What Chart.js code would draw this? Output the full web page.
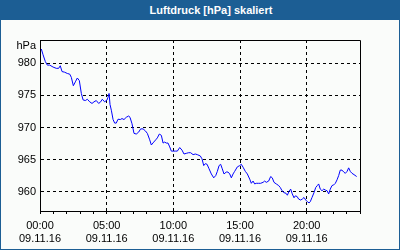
<!DOCTYPE html>
<html>
<head>
<meta charset="utf-8">
<script src="https://cdn.jsdelivr.net/npm/chart.js@4/dist/chart.umd.min.js"></script>
<style>
  html, body { margin: 0; padding: 0; background: #fafcfa; }
  #wrap { position: relative; width: 400px; height: 250px; overflow: hidden; background: #fafcfa; }
  #c { position: absolute; left: 0; top: 0; }
  #hdr { position: absolute; left: 0; top: 0; width: 400px; height: 20px; background: #1c5e94;
         color: #fff; font: bold 11px "Liberation Sans", Arial, sans-serif; line-height: 20px;
         text-align: center; box-sizing: border-box; padding-left: 22px; }
  #frame { position: absolute; left: 0; top: 0; width: 400px; height: 250px; box-sizing: border-box;
           border-left: 1px solid #1c5e94; border-right: 1px solid #1c5e94; border-bottom: 1px solid #1c5e94;
           pointer-events: none; }
</style>
</head>
<body>
<div id="wrap">
  <canvas id="c" width="400" height="250"></canvas>
  <div id="hdr">Luftdruck [hPa] skaliert</div>
  <div id="frame"></div>
</div>
<script>
const chartTitle = 'Luftdruck [hPa] skaliert';
const unitLabel = 'hPa';
const dateLabel = '09.11.16';
const xTickHours = [0, 5, 10, 15, 20];
const xTickTimes = ['00:00', '05:00', '10:00', '15:00', '20:00'];
const yTicks = [960, 965, 970, 975, 980];
const yMin = 957.05;
const yMax = 983.6;
const hours = [
  0.10,0.23,0.40,0.55,0.73,0.98,1.22,1.40,1.52,1.65,1.85,2.05,2.23,2.35,2.50,2.65,2.80,2.95,3.10,3.23,
  3.40,3.55,3.73,3.90,4.05,4.22,4.40,4.55,4.67,4.85,5.03,5.10,5.18,5.25,5.35,5.48,5.60,5.72,5.85,6.02,
  6.15,6.30,6.47,6.65,6.75,6.90,7.05,7.22,7.40,7.55,7.73,7.90,8.05,8.23,8.35,8.53,8.68,8.80,8.95,9.10,
  9.23,9.35,9.47,9.60,9.73,9.85,9.98,10.15,10.30,10.48,10.65,10.80,10.97,11.15,11.30,11.48,11.65,11.80,12.02,12.15,
  12.28,12.40,12.53,12.68,12.85,13.03,13.18,13.30,13.43,13.55,13.67,13.80,13.97,14.10,14.23,14.35,14.48,14.60,14.80,14.98,
  15.10,15.23,15.40,15.55,15.73,15.85,15.98,16.10,16.22,16.40,16.55,16.73,16.85,16.97,17.15,17.30,17.42,17.55,17.72,17.90,
  18.02,18.15,18.30,18.45,18.55,18.68,18.80,18.92,19.05,19.15,19.28,19.40,19.55,19.67,19.80,19.93,20.05,20.18,20.27,20.40,
  20.55,20.68,20.80,20.90,21.02,21.15,21.28,21.40,21.53,21.65,21.77,21.90,22.03,22.15,22.28,22.40,22.52,22.65,22.78,22.90,
  23.03,23.15,23.27,23.40,23.55,23.75
];
const pressure = [
  982.2,981.3,980.25,979.7,979.7,979.4,979.2,979.2,979.6,978.7,978.6,978.4,978.3,977.8,976.5,977.1,977.7,977.3,975.3,974.3,
  974.2,974.4,974.0,973.75,974.0,974.2,973.75,974.0,974.4,974.0,974.3,974.7,975.3,973.6,972.7,971.25,970.7,970.7,971.3,971.25,
  971.4,971.25,971.6,971.8,971.6,970.6,969.1,969.0,969.3,969.8,969.8,969.5,969.1,968.1,967.3,967.75,968.1,968.4,969.0,968.8,
  967.6,967.75,967.6,967.6,967.0,966.35,966.35,966.35,966.35,966.9,966.5,965.9,966.0,966.1,966.1,965.8,965.9,965.8,965.6,965.15,
  964.1,964.4,964.3,963.6,962.8,962.2,962.55,963.2,964.1,964.3,963.6,962.8,963.1,963.1,962.8,962.2,962.8,963.2,963.9,964.1,
  964.3,963.85,963.2,962.8,962.0,961.35,961.7,961.25,961.35,961.35,961.35,961.5,961.7,961.5,961.7,962.4,962.2,961.5,961.25,961.0,
  960.7,960.2,959.9,959.8,959.5,960.1,960.45,959.7,959.1,959.4,959.3,958.9,958.75,958.9,959.15,958.75,958.5,958.3,958.5,959.15,
  959.9,960.7,961.0,961.25,960.45,960.2,960.45,960.3,960.2,959.7,960.45,961.0,961.1,961.35,961.9,962.55,963.4,963.4,963.1,962.9,
  963.2,963.75,963.2,962.9,962.7,962.4
];

const points = hours.map((h, i) => ({ x: h, y: pressure[i] }));
const FONT = { family: '"Liberation Sans", Arial, sans-serif', size: 11 };

const framePlugin = {
  id: 'frame',
  afterDraw(chart) {
    const { ctx, chartArea: a } = chart;
    ctx.save();
    ctx.strokeStyle = '#000';
    ctx.lineWidth = 1;
    ctx.beginPath();
    ctx.moveTo(a.left, a.top + 0.5);
    ctx.lineTo(a.right + 0.5, a.top + 0.5);
    ctx.lineTo(a.right + 0.5, a.bottom);
    ctx.stroke();
    ctx.fillStyle = '#000';
    ctx.font = '11px "Liberation Sans", Arial, sans-serif';
    ctx.textAlign = 'right';
    ctx.textBaseline = 'middle';
    ctx.fillText(unitLabel, chart.scales.y.right - 4, a.top + 6);
    ctx.restore();
  }
};

new Chart(document.getElementById('c'), {
  type: 'line',
  data: {
    datasets: [{
      label: chartTitle,
      data: points,
      borderColor: '#0000ff',
      borderWidth: 1,
      pointRadius: 0,
      tension: 0,
      fill: false
    }]
  },
  options: {
    responsive: false,
    animation: false,
    layout: { padding: { top: 40, right: 40, left: 0, bottom: 0 } },
    plugins: { legend: { display: false }, title: { display: false }, tooltip: { enabled: false } },
    scales: {
      x: {
        type: 'linear',
        min: 0,
        max: 24,
        afterFit(s) { s.height = 39; },
        ticks: {
          stepSize: 1,
          autoSkip: false,
          maxRotation: 0,
          minRotation: 0,
          padding: 5,
          color: '#000',
          font: FONT,
          callback(v) {
            const k = xTickHours.indexOf(v);
            return k >= 0 ? [xTickTimes[k], dateLabel] : '';
          }
        },
        grid: {
          color: (c) => (c.tick && xTickHours.includes(c.tick.value) && c.tick.value > 0) ? '#000' : 'rgba(0,0,0,0)',
          tickColor: '#000',
          tickLength: 3,
          lineWidth: 1
        },
        border: { display: true, color: '#000', width: 1, dash: [3, 3] }
      },
      y: {
        type: 'linear',
        min: yMin,
        max: yMax,
        afterFit(s) { s.width = 40; },
        afterBuildTicks(s) { s.ticks = yTicks.map(v => ({ value: v })); },
        ticks: { padding: 4, color: '#000', font: FONT },
        grid: { color: '#000', drawTicks: false, lineWidth: 1 },
        border: { display: true, color: '#000', width: 1, dash: [3, 3] }
      }
    }
  },
  plugins: [framePlugin]
});
</script>
</body>
</html>
